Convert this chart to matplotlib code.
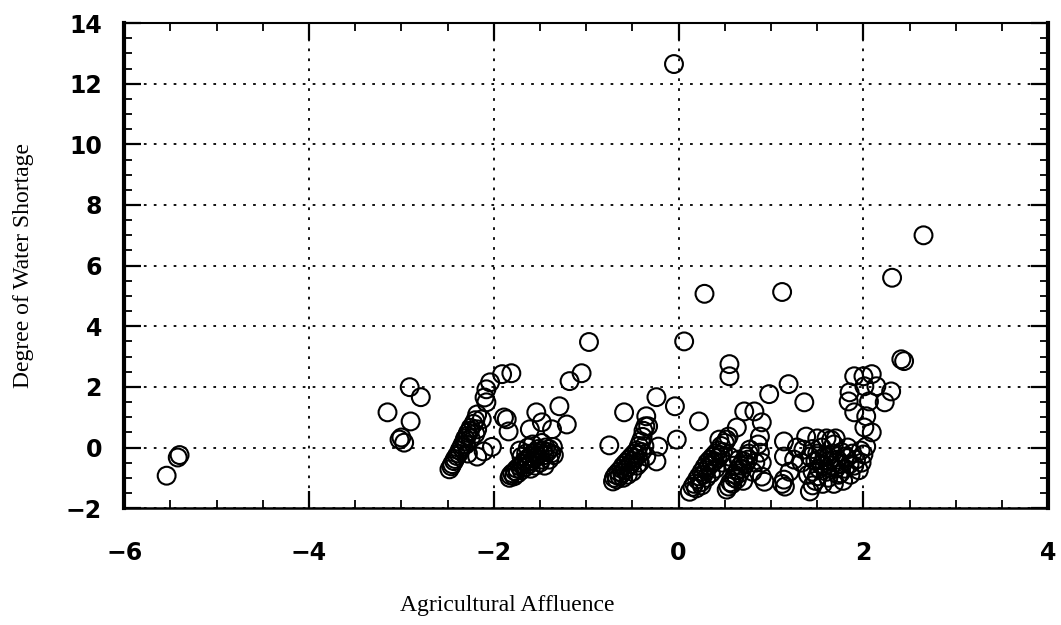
import matplotlib
matplotlib.use('Agg')
import matplotlib.pyplot as plt
from matplotlib.ticker import MultipleLocator

plt.rcParams['font.family'] = 'DejaVu Sans'
plt.rcParams['font.weight'] = 'bold'

# points, one list per cluster (x = affluence, y = shortage)
far_left = [(-5.54, -0.93), (-5.42, -0.33), (-5.40, -0.25)]

cluster_b = [(-2.91, 1.99), (-2.79, 1.66), (-3.15, 1.16), (-2.90, 0.86),
             (-3.02, 0.26), (-2.97, 0.16), (-3.00, 0.33)]

cluster_c = [(-2.48, -0.72), (-2.46, -0.62), (-2.45, -0.55), (-2.43, -0.45),
             (-2.42, -0.38), (-2.40, -0.28), (-2.38, -0.20), (-2.37, -0.10),
             (-2.35, 0.00), (-2.34, 0.08), (-2.32, 0.20), (-2.31, 0.30),
             (-2.29, 0.38), (-2.28, 0.48), (-2.26, 0.55), (-2.25, 0.65),
             (-2.22, 0.78), (-2.20, 0.90), (-2.13, 0.93), (-2.18, 0.60),
             (-2.30, 0.10), (-2.25, 0.30), (-2.20, 0.45), (-2.18, -0.30),
             (-2.11, -0.13), (-2.28, -0.20), (-2.08, 1.49), (-2.10, 1.65),
             (-2.08, 1.92), (-2.04, 2.15), (-1.91, 2.42), (-1.81, 2.45),
             (-1.89, 0.99), (-1.84, 0.53), (-2.02, 0.02), (-2.18, 1.09)]

cluster_d = [(-1.83, -1.00), (-1.82, -0.92), (-1.80, -0.85), (-1.78, -0.95),
             (-1.77, -0.78), (-1.75, -0.70), (-1.74, -0.85), (-1.72, -0.62),
             (-1.70, -0.75), (-1.69, -0.55), (-1.67, -0.45), (-1.66, -0.65),
             (-1.64, -0.38), (-1.62, -0.55), (-1.61, -0.30), (-1.59, -0.45),
             (-1.58, -0.20), (-1.56, -0.35), (-1.55, -0.15), (-1.53, -0.28),
             (-1.52, -0.05), (-1.50, -0.20), (-1.49, -0.40), (-1.47, -0.10),
             (-1.45, -0.25), (-1.44, 0.00), (-1.42, -0.15), (-1.40, -0.05),
             (-1.38, -0.20), (-1.36, 0.02), (-1.45, -0.60), (-1.55, -0.60),
             (-1.60, -0.70), (-1.50, -0.50), (-1.65, -0.20), (-1.70, -0.30),
             (-1.40, -0.40), (-1.35, -0.25), (-1.48, 0.15), (-1.58, 0.10),
             (-1.61, 0.60), (-1.48, 0.83), (-1.37, 0.60), (-1.54, 1.16),
             (-1.86, 0.93), (-1.29, 1.36), (-1.21, 0.76), (-1.18, 2.19),
             (-1.05, 2.45), (-0.97, 3.48), (-1.72, -0.10), (-1.63, 0.00)]

cluster_e = [(-0.71, -1.12), (-0.70, -1.00), (-0.68, -0.90), (-0.67, -1.05),
             (-0.65, -0.80), (-0.64, -0.95), (-0.62, -0.70), (-0.61, -0.85),
             (-0.60, -0.60), (-0.58, -0.75), (-0.57, -0.50), (-0.55, -0.65),
             (-0.54, -0.40), (-0.52, -0.55), (-0.51, -0.30), (-0.49, -0.45),
             (-0.48, -0.20), (-0.47, -0.35), (-0.45, -0.10), (-0.44, -0.25),
             (-0.43, 0.05), (-0.42, -0.50), (-0.41, 0.20), (-0.40, -0.15),
             (-0.39, 0.35), (-0.38, 0.55), (-0.37, 0.05), (-0.36, 0.70),
             (-0.35, -0.30), (-0.35, 1.03), (-0.33, 0.70), (-0.50, -0.80),
             (-0.55, -0.90), (-0.45, -0.60), (-0.60, -1.00), (-0.75, 0.07),
             (-0.59, 1.16), (-0.24, 1.66), (-0.04, 1.36), (-0.22, 0.03),
             (-0.24, -0.46), (-0.02, 0.26), (0.22, 0.86), (0.06, 3.50),
             (0.28, 5.07), (-0.05, 12.65)]

cluster_f = [(0.12, -1.46), (0.15, -1.30), (0.17, -1.20), (0.19, -1.35),
             (0.20, -1.05), (0.22, -0.95), (0.24, -1.15), (0.25, -0.80),
             (0.27, -0.90), (0.28, -0.65), (0.30, -0.75), (0.31, -0.50),
             (0.33, -0.60), (0.34, -0.40), (0.36, -0.50), (0.37, -0.30),
             (0.39, -0.45), (0.40, -0.20), (0.42, -0.35), (0.43, -0.10),
             (0.45, -0.25), (0.46, 0.05), (0.48, -0.15), (0.50, 0.15),
             (0.52, 0.26), (0.54, 0.36), (0.44, 0.26), (0.30, -1.00),
             (0.35, -0.85), (0.25, -1.25), (0.40, -0.70), (0.47, -0.50),
             (0.55, 2.75), (0.55, 2.35)]

cluster_g = [(0.52, -1.39), (0.54, -1.29), (0.56, -1.15), (0.58, -1.20),
             (0.60, -1.00), (0.61, -0.90), (0.63, -1.05), (0.64, -0.75),
             (0.66, -0.85), (0.67, -0.60), (0.69, -0.70), (0.70, -0.45),
             (0.72, -0.55), (0.73, -0.30), (0.75, -0.40), (0.77, -0.07),
             (0.76, -0.20), (0.55, -0.30), (0.60, -0.60), (0.65, -0.40),
             (0.70, -1.10), (0.80, -0.80), (0.83, -0.50), (0.86, 0.10),
             (0.88, 0.36), (0.90, 0.83), (0.82, 1.19), (0.71, 1.19),
             (0.63, 0.66), (0.88, -0.17), (0.90, -0.50), (0.90, -0.96),
             (0.93, -1.13), (0.98, 1.76), (1.19, 2.09), (1.36, 1.49)]

cluster_h = [(1.14, 0.20), (1.14, -0.30), (1.14, -1.06), (1.15, -1.29),
             (1.12, -1.20), (1.20, -0.80), (1.25, -0.40), (1.28, 0.00),
             (1.12, 5.13)]

cluster_i = [(1.42, -1.45), (1.45, -1.25), (1.48, -1.10), (1.40, -0.90),
             (1.45, -0.80), (1.50, -0.95), (1.52, -0.70), (1.55, -0.55),
             (1.48, -0.45), (1.42, -0.30), (1.50, -0.20), (1.55, 0.00),
             (1.58, -0.30), (1.60, -0.80), (1.62, -1.00), (1.63, -0.45),
             (1.65, -0.60), (1.66, -0.20), (1.68, 0.10), (1.70, -0.70),
             (1.72, -0.40), (1.73, -0.90), (1.75, -0.55), (1.76, -0.15),
             (1.78, -1.10), (1.80, -0.70), (1.82, -0.35), (1.83, 0.00),
             (1.85, -0.55), (1.86, -0.90), (1.88, -0.20), (1.90, -0.60),
             (1.92, -0.40), (1.95, -0.75), (1.97, -0.10), (1.98, -0.50),
             (1.60, 0.30), (1.65, 0.25), (1.70, 0.30), (1.56, -1.20),
             (1.68, -1.20), (1.58, -0.60), (1.70, -0.50), (1.62, -0.30),
             (1.75, -0.85), (1.80, -0.30), (1.52, -0.40), (1.45, -0.05),
             (1.50, 0.30), (1.38, 0.36), (1.35, -0.07), (1.33, -0.50)]

cluster_j = [(2.44, 2.85), (2.41, 2.91), (2.00, 2.35), (2.09, 2.42),
             (1.90, 2.35), (2.01, 2.02), (2.14, 2.02), (2.30, 1.85),
             (1.85, 1.82), (1.84, 1.52), (2.06, 1.52), (2.23, 1.49),
             (1.90, 1.16), (2.03, 1.03), (2.01, 0.66), (2.09, 0.50),
             (2.03, 0.03), (2.00, -0.23), (2.31, 5.60), (2.65, 7.00)]

groups = [far_left, cluster_b, cluster_c, cluster_d, cluster_e,
          cluster_f, cluster_g, cluster_h, cluster_i, cluster_j]

xs = [p[0] for g in groups for p in g]
ys = [p[1] for g in groups for p in g]

fig = plt.figure(figsize=(10.61, 6.25), dpi=100)
ax = fig.add_axes([0.117, 0.187, 0.871, 0.776])

ax.scatter(xs, ys, s=165, facecolors='none', edgecolors='black',
           linewidths=1.5, zorder=3)

ax.set_xlim(-6, 4)
ax.set_ylim(-2, 14)
ax.xaxis.set_major_locator(MultipleLocator(2))
ax.xaxis.set_minor_locator(MultipleLocator(0.5))
ax.yaxis.set_major_locator(MultipleLocator(2))
ax.yaxis.set_minor_locator(MultipleLocator(0.5))
ax.grid(True, which='major', color='black', linestyle=(0, (1.5, 4)),
        linewidth=1.3)

ax.tick_params(which='both', direction='in', top=True, right=True,
               color='black')
ax.tick_params(which='major', length=12, width=1.6, labelsize=17)
ax.tick_params(which='minor', length=6, width=1.3)
ax.tick_params(axis='x', which='major', pad=24)
ax.tick_params(axis='y', which='major', pad=16)

ax.spines['left'].set_linewidth(3)
ax.spines['right'].set_linewidth(3)
ax.spines['top'].set_linewidth(1.5)
ax.spines['bottom'].set_linewidth(1.8)

fig.text(0.022, 0.576, 'Degree of Water Shortage', rotation=90,
         ha='center', va='center', family='Liberation Serif',
         fontweight='normal', fontsize=17)
fig.text(0.478, 0.032, 'Agricultural Affluence', ha='center', va='center',
         family='Liberation Serif', fontweight='normal', fontsize=17)

fig.savefig('out.png', dpi=100)
